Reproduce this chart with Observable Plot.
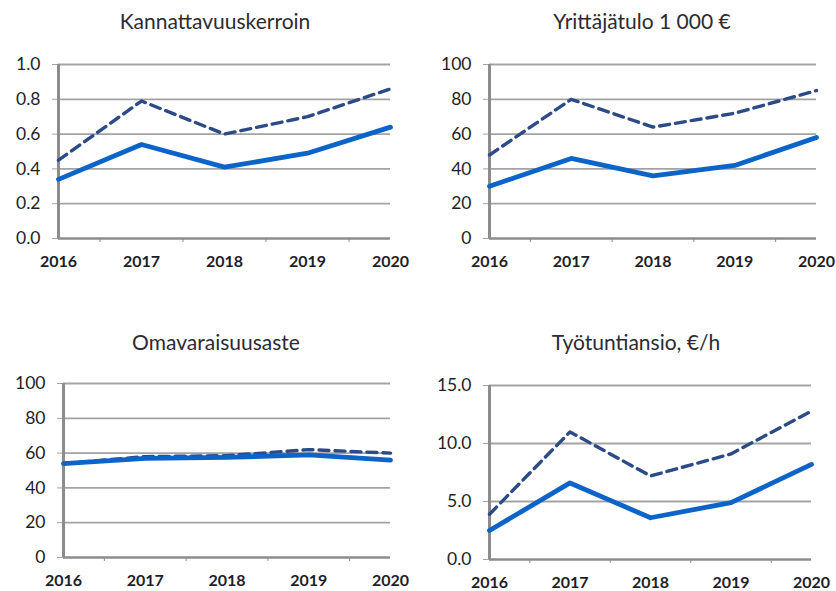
<!DOCTYPE html>
<html>
<head>
<meta charset="utf-8">
<script src="https://cdn.jsdelivr.net/npm/d3@7"></script>
<script src="https://cdn.jsdelivr.net/npm/@observablehq/plot@0.6"></script>
<style>
  html, body { margin: 0; padding: 0; background: #fff; }
  #page { position: relative; width: 836px; height: 591px; overflow: hidden; font-family: Lato, "Open Sans", sans-serif; }
  .title { position: absolute; width: 300px; text-align: center; font-size: 21px; line-height: 21px; color: #2b2b33; white-space: nowrap; }
  .panel { position: absolute; }
</style>
</head>
<body>
<div id="page"></div>
<script>
const years = [2016, 2017, 2018, 2019, 2020];

const kannattavuusSolid = [0.34, 0.54, 0.41, 0.49, 0.64];
const kannattavuusDashed = [0.45, 0.79, 0.60, 0.70, 0.86];
const kannattavuusTicks = [0, 0.2, 0.4, 0.6, 0.8, 1.0];

const yrittajatuloSolid = [30, 46, 36, 42, 58];
const yrittajatuloDashed = [48, 80, 64, 72, 85];
const yrittajatuloTicks = [0, 20, 40, 60, 80, 100];

const omavaraisuusSolid = [54, 57, 57.5, 59, 56];
const omavaraisuusDashed = [54, 58, 58.5, 62, 60];
const omavaraisuusTicks = [0, 20, 40, 60, 80, 100];

const tyotuntiSolid = [2.5, 6.6, 3.6, 4.9, 8.2];
const tyotuntiDashed = [3.9, 11.0, 7.2, 9.1, 12.8];
const tyotuntiTicks = [0, 5, 10, 15];

const titles = ["Kannattavuuskerroin", "Yrittäjätulo 1 000 €", "Omavaraisuusaste", "Työtuntiansio, €/h"];

const panels = [
  {title: titles[0], solid: kannattavuusSolid, dashed: kannattavuusDashed, ticks: kannattavuusTicks, fmt: d3.format(".1f"),
   left: 0, top: 44, height: 234, mt: 20, mb: 40, ml: 58, mr: 30, titleX: 215, titleY: 10},
  {title: titles[1], solid: yrittajatuloSolid, dashed: yrittajatuloDashed, ticks: yrittajatuloTicks, fmt: d3.format("d"),
   left: 416, top: 44, height: 234, mt: 20, mb: 40, ml: 73, mr: 20, titleX: 642, titleY: 10},
  {title: titles[2], solid: omavaraisuusSolid, dashed: omavaraisuusDashed, ticks: omavaraisuusTicks, fmt: d3.format("d"),
   left: 0, top: 363, height: 229, mt: 20, mb: 35, ml: 63, mr: 30, titleX: 216, titleY: 331},
  {title: titles[3], solid: tyotuntiSolid, dashed: tyotuntiDashed, ticks: tyotuntiTicks, fmt: d3.format(".1f"),
   left: 416, top: 365, height: 227, mt: 20, mb: 33, ml: 73, mr: 25, titleX: 636, titleY: 331}
];

const page = document.getElementById("page");
const mids = years.slice(0, -1).map(y => y + 0.5);

for (const p of panels) {
  const t = document.createElement("div");
  t.className = "title";
  t.textContent = p.title;
  t.style.left = (p.titleX - 150) + "px";
  t.style.top = p.titleY + "px";
  page.appendChild(t);

  const solidData = years.map((y, i) => ({year: y, value: p.solid[i]}));
  const dashedData = years.map((y, i) => ({year: y, value: p.dashed[i]}));
  const yMax = p.ticks[p.ticks.length - 1];

  const chart = Plot.plot({
    width: 420,
    height: p.height,
    marginTop: p.mt,
    marginBottom: p.mb,
    marginLeft: p.ml,
    marginRight: p.mr,
    style: {fontFamily: "Lato, 'Open Sans', sans-serif", fontSize: "16px", color: "#1e1e28", background: "transparent", overflow: "visible"},
    x: {domain: [2016, 2020], label: null},
    y: {domain: [0, yMax], label: null},
    marks: [
      Plot.ruleY(p.ticks.slice(1), {stroke: "#a3a3a3", strokeWidth: 1.8, strokeOpacity: 1}),
      Plot.axisY({ticks: p.ticks, tickFormat: p.fmt, tickSize: 6, tickPadding: 12, stroke: "#a3a3a3", strokeOpacity: 1, fontSize: 17.5, fill: "#1e1e28", label: null}),
      Plot.ruleY([0], {stroke: "#8c8c8c", strokeWidth: 2.5}),
      Plot.axisX({ticks: mids, tickSize: 4, tickFormat: () => "", stroke: "#8c8c8c", strokeOpacity: 1, label: null}),
      Plot.axisX({ticks: years, tickSize: 0, tickPadding: 17, tickFormat: d3.format("d"), fontWeight: "bold", fill: "#1e1e28", label: null}),
      Plot.ruleX([2016], {stroke: "#8c8c8c", strokeWidth: 3}),
      Plot.line(dashedData, {x: "year", y: "value", stroke: "#2c4b86", strokeWidth: 3.4, strokeDasharray: "10,6", strokeLinejoin: "round"}),
      Plot.line(solidData, {x: "year", y: "value", stroke: "#0d64c8", strokeWidth: 4.8, strokeLinejoin: "round", strokeLinecap: "round"})
    ]
  });
  chart.classList.add("panel");
  chart.style.left = p.left + "px";
  chart.style.top = p.top + "px";
  page.appendChild(chart);
}
</script>
</body>
</html>
